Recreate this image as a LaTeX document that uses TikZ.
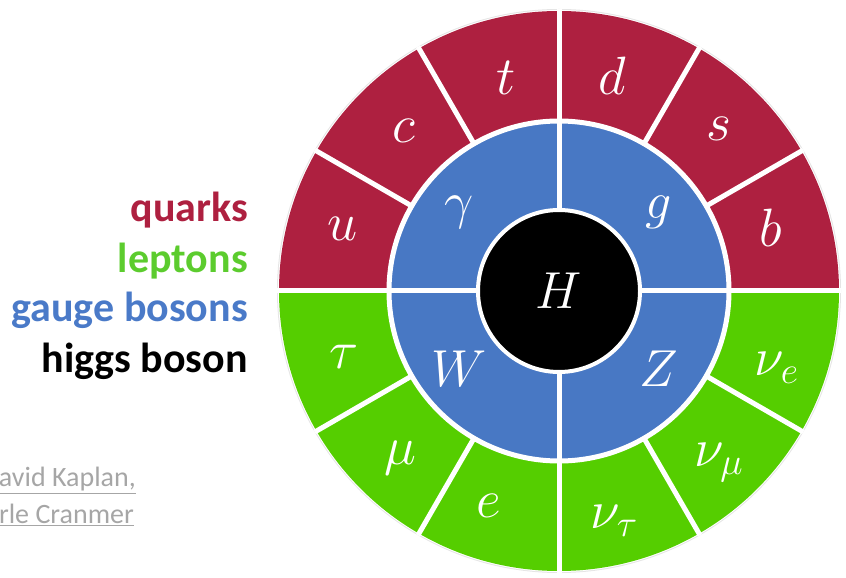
\RequirePackage{fix-cm}
\documentclass[tikz,border=0pt]{standalone}
\usepackage{fontspec}
\usetikzlibrary{calc}
\newfontfamily\legendfont{Carlito}
\definecolor{qred}{RGB}{174,32,64}
\definecolor{lgreen}{RGB}{85,206,0}
\definecolor{gblue}{RGB}{72,120,196}
\definecolor{legreen}{RGB}{92,204,46}
\definecolor{legblue}{RGB}{74,122,200}
\definecolor{credit}{RGB}{166,166,166}
\newcommand{\partfont}{\fontsize{54}{60}\selectfont}
\newcommand{\bosonfont}{\fontsize{52}{60}\selectfont}
\tikzset{
  part/.style={text=white, font=\partfont, inner sep=0pt},
  boson/.style={text=white, font=\bosonfont, inner sep=0pt},
  legend/.style={anchor=base east, inner sep=0pt, font=\legendfont\bfseries\fontsize{42}{42}\selectfont},
  creditstyle/.style={anchor=base east, inner sep=0pt, text=credit, font=\legendfont\fontsize{28}{28}\selectfont},
  divider/.style={white, line width=5pt},
}
\begin{document}
\begin{tikzpicture}[x=1pt,y=1pt]
\useasboundingbox (0,0) rectangle (846,578);
\coordinate (c) at (559,287);
% outer faint outline
\fill[black!10] (c) circle (282);
\fill[white] (c) circle (281);
% half discs
\fill[qred] (c) ++(0:280) arc (0:180:280) -- cycle;
\fill[lgreen] (c) ++(180:280) arc (180:360:280) -- cycle;
% blue ring and black core
\fill[gblue, draw=white, line width=5pt] (c) circle (170);
\fill[black, draw=white, line width=4pt] (c) circle (81);
% dividers
\foreach \a in {30,60,120,150,210,240,300,330}
  \draw[divider] (c) ++(\a:170) -- ++(\a:112);
\foreach \a in {0,90,180,270}
  \draw[divider] (c) ++(\a:81) -- ++(\a:201);
% outer ring labels
\node[part] (u) at ($(c)+(164:225)$) {\partfont $u$};
\node[part] (cq) at ($(c)+(134:223)$) {\partfont $c$};
\node[part] (t) at ($(c)+(104:220)$) {\partfont $t$};
\node[part] (d) at ($(c)+(76:222)$) {\partfont $d$};
\node[part] (s) at ($(c)+(45.5:228)$) {\partfont $s$};
\node[part] (b) at ($(c)+(16.5:221)$) {\partfont $b$};
\node[part] (tau) at ($(c)+(197:225)$) {\partfont $\tau$};
\node[part] (mu) at ($(c)+(226.5:230)$) {\partfont $\mu$};
\node[part] (e) at ($(c)+(252:226)$) {\partfont $e$};
\node[part] (nt) at ($(c)+(283.5:236)$) {\partfont $\nu_\tau$};
\node[part] (nm) at ($(c)+(313:234)$) {\partfont $\nu_\mu$};
\node[part] (ne) at ($(c)+(340.5:231)$) {\partfont $\nu_e$};
% bosons
\node[boson] (gam) at ($(c)+(142:127)$) {\bosonfont $\gamma$};
\node[boson] (g) at ($(c)+(38:127)$) {\bosonfont $g$};
\node[boson] (W) at ($(c)+(218:127)$) {\bosonfont $W$};
\node[boson] (Z) at ($(c)+(322:127)$) {\bosonfont $Z$};
\node[boson] (H) at (c) {\bosonfont $H$};
% legend
\node[legend, text=qred] (lq) at (248,356) {quarks};
\node[legend, text=legreen] (ll) at (248,305) {leptons};
\node[legend, text=legblue] (lg) at (248,256) {gauge bosons};
\node[legend, text=black] (lh) at (248,205) {higgs boson};
% credits
\node[creditstyle] (c1) at (136,91) {\underline{avid Kaplan,}};
\node[creditstyle] (c2) at (134,54) {\underline{rle Cranmer}};
\end{tikzpicture}
\end{document}
